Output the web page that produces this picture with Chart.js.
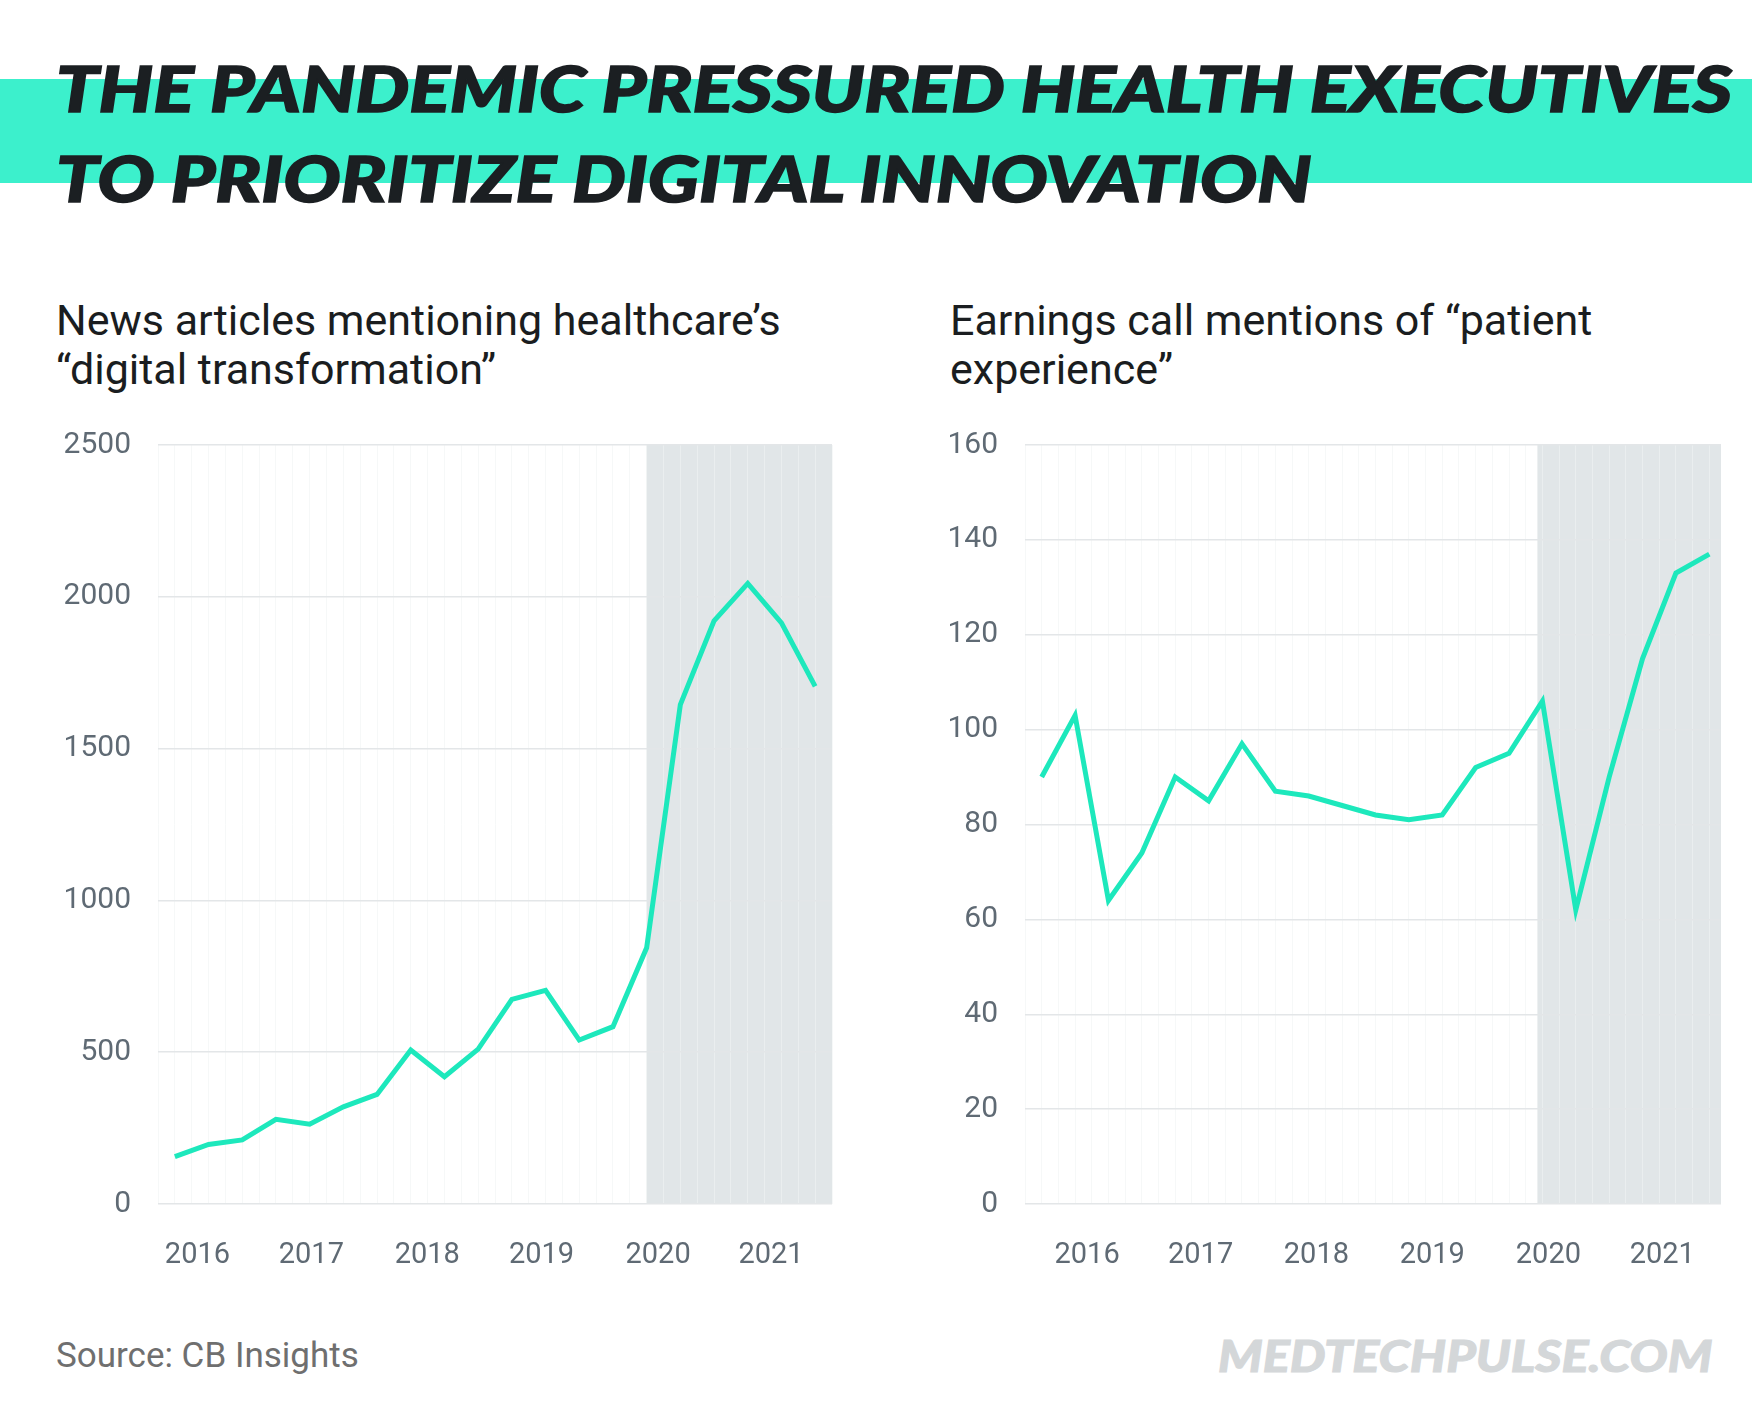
<!DOCTYPE html>
<html>
<head>
<meta charset="utf-8">
<script src="https://cdn.jsdelivr.net/npm/chart.js@4.4.0/dist/chart.umd.min.js"></script>
<style>
html,body{margin:0;padding:0;background:#fff;}
#page{position:relative;width:1752px;height:1402px;overflow:hidden;background:#fff;}
.band{position:absolute;left:0;top:79px;width:1752px;height:104px;background:#3cf0cc;}
.title{position:absolute;left:56px;font:italic 900 62px Lato,"DejaVu Sans",sans-serif;line-height:62px;color:#1b1f22;white-space:nowrap;transform-origin:0 0;-webkit-text-stroke:1.5px #1b1f22;}
.sub{position:absolute;top:296px;font:400 43px Roboto,"Noto Sans",sans-serif;line-height:49px;color:#1a1d20;white-space:nowrap;}
.box{position:absolute;top:400px;height:882px;}
.source{position:absolute;left:56px;top:1335px;font:400 35px Roboto,"Noto Sans",sans-serif;line-height:42px;color:#6f6f6f;white-space:nowrap;}
.brand{position:absolute;top:1330px;font:italic 900 44px Lato,"DejaVu Sans",sans-serif;line-height:50px;color:#d4d7d9;white-space:nowrap;transform-origin:0 0;-webkit-text-stroke:1px #d4d7d9;}
</style>
</head>
<body>
<div id="page">
  <div class="band"></div>
  <div class="title" id="title1" style="top:57px">THE PANDEMIC PRESSURED HEALTH EXECUTIVES</div>
  <div class="title" id="title2" style="top:147px">TO PRIORITIZE DIGITAL INNOVATION</div>

  <div class="sub" style="left:56px">News articles mentioning healthcare’s<br>“digital transformation”</div>
  <div class="sub" style="left:950px">Earnings call mentions of “patient<br>experience”</div>

  <div class="box" style="left:0;width:860px"><canvas id="newsChart"></canvas></div>
  <div class="box" style="left:870px;width:860px"><canvas id="callsChart"></canvas></div>

  <div class="source">Source: CB Insights</div>
  <div class="brand" id="brand">MEDTECHPULSE.COM</div>
</div>

<script>
// ---------------- Data ----------------
const yearLabels = ['2016', '2017', '2018', '2019', '2020', '2021'];

// news articles mentioning "digital transformation", one value per period
const newsValues = [156, 196, 211, 279, 263, 320, 361, 507, 419, 510,
                    674, 704, 540, 584, 844, 1645, 1921, 2044, 1914, 1705];
// where the year labels sit, counted in periods from the first point
const newsYearAt = [0.67, 4.05, 7.49, 10.88, 14.34, 17.69];
const newsPandemicFrom = 14;

// earnings call mentions of "patient experience"
const callValues = [90, 103, 64, 74, 90, 85, 97, 87, 86, 84, 82,
                    81, 82, 92, 95, 106, 62, 90, 115, 133, 137];
const callYearAt = [1.36, 4.76, 8.23, 11.70, 15.18, 18.59];
const callPandemicFrom = 14.85;

// ---------------- Styles ----------------
const lineColor = '#1de8bc';
const tickColor = '#5f6a74';
const hGridColor = '#e3e6e8';
const vGridColor = 'rgba(240,243,244,0.6)';
const shadeColor = '#e1e6e8';

Chart.defaults.font.family = 'Roboto, "Noto Sans", sans-serif';

const pandemicShade = {
    id: 'pandemicShade',
    beforeDraw(chart, args, opts){
        const {ctx, chartArea, scales} = chart;
        const x0 = scales.x.getPixelForValue(opts.from);
        ctx.save();
        ctx.fillStyle = shadeColor;
        ctx.fillRect(x0, chartArea.top, chartArea.right - x0, chartArea.bottom - chartArea.top);
        ctx.restore();
    }
};

function makeChart(id, values, yMax, yStep, yearAt, shadeFrom, xMax, yWidth, padRight){
    const ctx = document.getElementById(id).getContext('2d');
    return new Chart(ctx, {
        type: 'line',
        data: {
            datasets: [{
                data: values.map((v, i) => ({x: i, y: v})),
                borderColor: lineColor,
                borderWidth: 5,
                pointRadius: 0,
                tension: 0,
                fill: false
            }]
        },
        options: {
            responsive: true,
            maintainAspectRatio: false,
            animation: false,
            layout: {padding: {top: 6, right: padRight, left: 0, bottom: 0}},
            plugins: {
                legend: {display: false},
                tooltip: {enabled: false},
                pandemicShade: {from: shadeFrom}
            },
            scales: {
                x: {
                    type: 'linear',
                    min: -0.5,
                    max: xMax,
                    afterBuildTicks: scale => {
                        const t = [];
                        for(let v = -0.5; v <= xMax + 1e-9; v += 0.5) t.push({value: v});
                        yearAt.forEach(p => t.push({value: p}));
                        scale.ticks = t;
                    },
                    afterFit: scale => { scale.height = 78; },
                    ticks: {
                        autoSkip: false,
                        maxRotation: 0,
                        padding: 34,
                        color: tickColor,
                        font: {size: 29},
                        callback: v => {
                            const i = yearAt.indexOf(v);
                            return i >= 0 ? yearLabels[i] : '';
                        }
                    },
                    grid: {
                        drawTicks: false,
                        lineWidth: 1,
                        color: c => (c.tick && yearAt.includes(c.tick.value)) ? 'rgba(0,0,0,0)' : vGridColor
                    },
                    border: {display: false}
                },
                y: {
                    min: 0,
                    max: yMax,
                    afterFit: scale => { scale.width = yWidth; },
                    ticks: {stepSize: yStep, padding: 27, color: tickColor, font: {size: 30}, callback: v => String(v)},
                    grid: {drawTicks: false, color: hGridColor, lineWidth: 1.5},
                    border: {display: false}
                }
            }
        },
        plugins: [pandemicShade]
    });
}

// ---------------- Text fitting ----------------
function fitWidth(el, target){
    const w = el.offsetWidth;
    el.style.transform = `scaleX(${target / w})`;
    return target / w;
}

function layoutText(){
    const t1 = document.getElementById('title1');
    const t2 = document.getElementById('title2');
    const s = fitWidth(t1, 1676);
    t2.style.transform = `scaleX(${s})`;

    const brand = document.getElementById('brand');
    fitWidth(brand, 494);
    brand.style.left = (1712 - 494) + 'px';
}

// ---------------- Initial Render ----------------
layoutText();
makeChart('newsChart', newsValues, 2500, 500, newsYearAt, newsPandemicFrom, 19.5, 158, 28);
makeChart('callsChart', callValues, 160, 20, callYearAt, callPandemicFrom, 20.35, 155, 9);
</script>
</body>
</html>
